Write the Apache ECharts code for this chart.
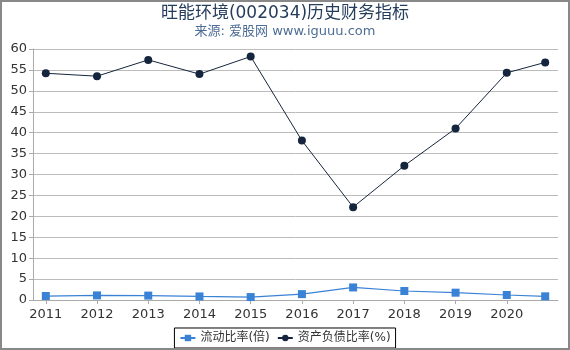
<!DOCTYPE html>
<html>
<head>
<meta charset="utf-8">
<script src="https://cdn.jsdelivr.net/npm/echarts@6/dist/echarts.min.js"></script>
<style>
    html, body {margin: 0; padding: 0; background: #fff;}
    #chart {width: 570px; height: 350px; border: 2px solid #888; box-sizing: border-box;}
</style>
</head>
<body>
<div id="chart"></div>
<script>
// x positions: years, last one is 2020 Q3
var periods = [2011, 2012, 2013, 2014, 2015, 2016, 2017, 2018, 2019, 2020, 2020.75];
var yearLabels = [2011, 2012, 2013, 2014, 2015, 2016, 2017, 2018, 2019, 2020];
var currentRatio = [0.95, 1.1, 1.05, 0.85, 0.7, 1.4, 3.0, 2.15, 1.75, 1.2, 0.88];
var debtRatio = [54.2, 53.5, 57.4, 54.0, 58.2, 38.1, 22.2, 32.1, 41.0, 54.3, 56.8];

function pairs(xs, ys) {
    return xs.map(function (x, i) { return [x, ys[i]]; });
}

var font = 'DejaVu Sans, Noto Sans CJK SC, sans-serif';

var option = {
    animation: false,
    title: {
        text: '旺能环境(002034)历史财务指标',
        subtext: '来源: 爱股网 www.iguuu.com',
        left: 'center',
        top: -2,
        itemGap: 3,
        textStyle: {fontFamily: font, fontSize: 17, fontWeight: 'normal', color: '#253d5c'},
        subtextStyle: {fontFamily: font, fontSize: 13, color: '#4d6d94'}
    },
    legend: {
        bottom: 0,
        left: 'center',
        padding: [4, 5],
        itemGap: 7,
        itemWidth: 15,
        itemHeight: 8,
        borderColor: '#000',
        borderWidth: 1,
        borderRadius: 0,
        textStyle: {fontFamily: font, fontSize: 12, color: '#333'},
        data: ['流动比率(倍)', '资产负债比率(%)']
    },
    grid: {left: 31, right: 10, top: 47, bottom: 48},
    xAxis: {
        type: 'value',
        min: 2010.75,
        max: 2021,
        splitLine: {show: false},
        axisLine: {lineStyle: {color: '#aaa'}},
        axisTick: {show: true, customValues: yearLabels, length: 4, lineStyle: {color: '#aaa'}},
        axisLabel: {
            customValues: yearLabels,
            fontFamily: font, fontSize: 13, color: '#333', margin: 8,
            formatter: function (v) { return String(v); }
        }
    },
    yAxis: {
        type: 'value',
        min: 0,
        max: 60,
        interval: 5,
        axisLine: {show: true, lineStyle: {color: '#aaa'}},
        axisTick: {show: true, length: 4, lineStyle: {color: '#aaa'}},
        splitLine: {lineStyle: {color: '#bbb'}},
        axisLabel: {fontFamily: font, fontSize: 13, color: '#333', margin: 6}
    },
    series: [
        {
            name: '流动比率(倍)',
            type: 'line',
            symbol: 'rect',
            symbolSize: 8,
            itemStyle: {color: '#3a82d6'},
            lineStyle: {width: 1.2, color: '#3a82d6'},
            data: pairs(periods, currentRatio)
        },
        {
            name: '资产负债比率(%)',
            type: 'line',
            symbol: 'circle',
            symbolSize: 8,
            itemStyle: {color: '#15253d'},
            lineStyle: {width: 1, color: '#15253d'},
            data: pairs(periods, debtRatio)
        }
    ]
};

var chart = echarts.init(document.getElementById('chart'));
chart.setOption(option);
</script>
</body>
</html>
